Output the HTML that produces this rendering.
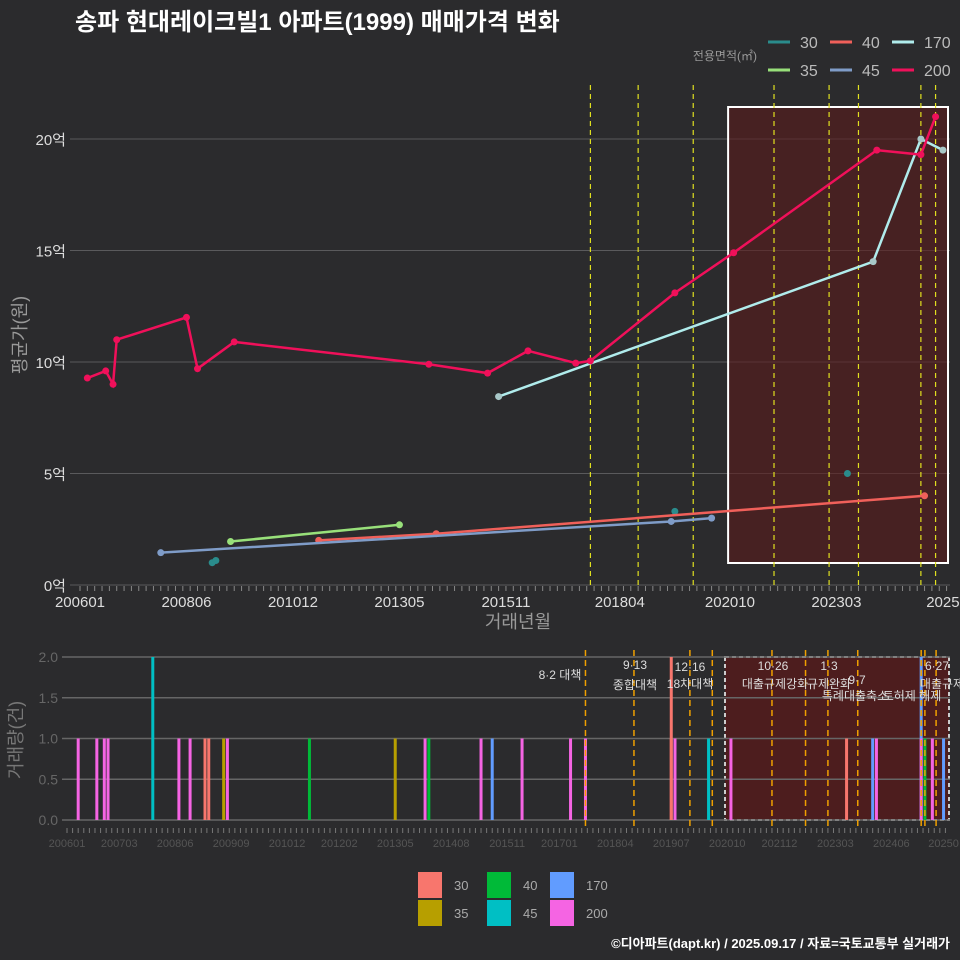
<!DOCTYPE html>
<html><head><meta charset="utf-8">
<style>
body{margin:0;background:#2b2b2d;}
svg{display:block;font-family:"Liberation Sans","Noto Sans CJK KR",sans-serif;}
</style></head>
<body>
<svg id="c" width="960" height="960" viewBox="0 0 960 960">
<rect x="0" y="0" width="960" height="960" fill="#2b2b2d"/>
<text x="75" y="30" fill="#ffffff" font-size="24" font-weight="bold">송파 현대레이크빌1 아파트(1999) 매매가격 변화</text>
<g id="legendTop"></g>
<g id="topPanel"></g>
<g id="botPanel"></g>
<g id="legendBot"></g>
<text x="950" y="948" fill="#ffffff" font-size="13" font-weight="bold" text-anchor="end">©디아파트(dapt.kr) / 2025.09.17 / 자료=국토교통부 실거래가</text>
</svg>
<script>
// ---- data (month index from 2006-01) ----
const seriesNames = ["30","35","40","45","170","200"];
const lineColors = {"30":"#2a8c8c","35":"#98e07a","40":"#f0605a","45":"#7f9cc8","170":"#b0ecec","200":"#f0105a"};
const s30m = [36,37,162,209];            const s30v = [1.0,1.1,3.3,5.0];
const s35m = [41,87];                    const s35v = [1.95,2.7];
const s40m = [65,97,230];                const s40v = [2.0,2.3,4.0];
const s45m = [22,161,172];               const s45v = [1.45,2.85,3.0];
const s170m = [114,216,229,235];         const s170v = [8.45,14.5,20.0,19.5];
const s200m = [2,7,9,10,29,32,42,95,111,122,135,139,162,178,217,229,233];
const s200v = [9.28,9.6,9.0,11.0,12.0,9.7,10.9,9.9,9.5,10.5,9.95,10.05,13.1,14.9,19.5,19.3,21.0];
const yTicks = [0,5,10,15,20];
const yTickLabels = ["0억","5억","10억","15억","20억"];
const xTickMonths = [0,29,58,87,116,147,177,206,235];
const xTickLabels = ["200601","200806","201012","201305","201511","201804","202010","202303","2025"];
const policyMonths = [139,152,167,189,204,212,229,233];
// volume bars
const barMonths = [3,8,10,11,23,30,33,37,38,42,43,65,88,96,97,111,114,122,135,139,162,163,162,172,178,209,216,217,229,229,230,232,235];
const barCounts = [1,1,1,1,2,1,1,1,1,1,1,1,1,1,1,1,1,1,1,1,1,1,2,1,1,1,1,1,2,1,1,1,1];
const barSeries = ["200","200","200","200","45","200","200","30","30","35","200","40","35","200","40","200","170","200","200","200","30","200","30","45","200","30","170","200","170","200","40","200","170"];
const barColors = {"30":"#F8766D","35":"#B79F00","40":"#00BA38","45":"#00BFC4","170":"#619CFF","200":"#F564E3"};
const volTicks = [0,0.5,1,1.5,2];
const volTickLabels = ["0.0","0.5","1.0","1.5","2.0"];
const botTickMonths = [0,14,29,44,59,73,88,103,118,132,147,162,177,191,206,221,235];
const botTickLabels = ["200601","200703","200806","200909","201012","201202","201305","201408","201511","201701","201804","201907","202010","202112","202303","202406","20250"];
const botPolicyMonths = [139,152,167,173,189,198,204,212,229,230,233];
const annText = [["8·2 대책",560,679],["9·13",635,669],["종합대책",635,689],["12·16",690,671],["18차대책",690,688],["10·26",773,670],["대출규제강화",775,688],["1·3",829,670],["규제완화",829,688],["9·7",857,684],["특례대출축소",855,700],["토허제 해제",912,700],["6·27",937,670],["대출규제",942,688]];

const NS="http://www.w3.org/2000/svg";
function mk(p,tag,a){const e=document.createElementNS(NS,tag);for(const k in a)e.setAttribute(k,a[k]);p.appendChild(e);return e;}
const topG=document.getElementById('topPanel'), botG=document.getElementById('botPanel');
const xT=m=>80+m*3.672, yT=v=>585-v*22.3;
const xB=m=>67+m*3.73, yB=v=>820-v*81.5;

yTicks.forEach((t,i)=>{
  const l=mk(topG,'line',{x1:70,x2:950,y1:yT(t),y2:yT(t),stroke:'#5a5a5c','stroke-width':1});
  
  
  const tx=mk(topG,'text',{x:66,y:yT(t)+6,fill:'#dddddd','font-size':15,'text-anchor':'end'});
  tx.textContent=yTickLabels[i];
  
  
});
for(let m=0;m<=236;m+=2){mk(topG,'line',{x1:xT(m),x2:xT(m),y1:586,y2:591,stroke:'#888','stroke-width':1});}
xTickMonths.forEach((m,i)=>{
  const tx=mk(topG,'text',{x:xT(m),y:607,fill:'#dddddd','font-size':15,'text-anchor':'middle'});
  tx.textContent=xTickLabels[i];
  
  
});
let t1=mk(topG,'text',{x:518,y:628,fill:'#999','font-size':18,'text-anchor':'middle'});t1.textContent='거래년월';


let t2=mk(topG,'text',{x:0,y:0,fill:'#999','font-size':18,'text-anchor':'middle',transform:'translate(26,335) rotate(-90)'});t2.textContent='평균가(원)';


let hr=mk(topG,'rect',{x:xT(176.5),y:107,width:948-xT(176.5),height:456,fill:'#5a1a1a','fill-opacity':0.6,stroke:'#ffffff','stroke-width':2});


policyMonths.forEach(m=>{
  const l=mk(topG,'line',{x1:xT(m),x2:xT(m),y1:85,y2:585,stroke:'#e0e020','stroke-width':1.2,'stroke-dasharray':'5,4'});
  
  
});
const all={"30":[s30m,s30v],"35":[s35m,s35v],"40":[s40m,s40v],"45":[s45m,s45v],"170":[s170m,s170v],"200":[s200m,s200v]};
seriesNames.forEach(s=>{
  const [ms,vs]=all[s];
  if(s!=="30"){
    const pl=mk(topG,'polyline',{points:ms.map((m,i)=>xT(m)+','+yT(vs[i])).join(' '),fill:'none',stroke:lineColors[s],'stroke-width':2.5});
    
    
  }
  ms.forEach((m,i)=>{
    const c=mk(topG,'circle',{cx:xT(m),cy:yT(vs[i]),r:3.5,fill:s==="170"?'#a8c8c8':lineColors[s]});
    
    
  });
});
const lgT=document.getElementById('legendTop');
let lt=mk(lgT,'text',{x:757,y:60,fill:'#999','font-size':12,'text-anchor':'end'});lt.textContent='전용면적(㎡)';


[["30",768,42],["40",830,42],["170",892,42],["35",768,70],["45",830,70],["200",892,70]].forEach(([s,x,y])=>{
  const l=mk(lgT,'line',{x1:x,x2:x+22,y1:y,y2:y,stroke:lineColors[s],'stroke-width':3});
  
  
  const t=mk(lgT,'text',{x:x+32,y:y+6,fill:'#bbb','font-size':16});t.textContent=s;
  
  
});

let br=mk(botG,'rect',{x:725,y:657,width:224,height:163,fill:'#5a1a1a','fill-opacity':0.75,stroke:'#cccccc','stroke-width':2,'stroke-dasharray':'4,3'});


volTicks.forEach((t,i)=>{
  const l=mk(botG,'line',{x1:62,x2:950,y1:yB(t),y2:yB(t),stroke:'#666','stroke-width':1.5});
  
  
  const tx=mk(botG,'text',{x:58,y:yB(t)+5,fill:'#666','font-size':14,'text-anchor':'end'});tx.textContent=volTickLabels[i];
  
  
});
let t3=mk(botG,'text',{x:0,y:0,fill:'#777','font-size':18,'text-anchor':'middle',transform:'translate(22,740) rotate(-90)'});t3.textContent='거래량(건)';


barMonths.forEach((m,i)=>{
  const r=mk(botG,'rect',{x:xB(m)-1.5,y:yB(barCounts[i]),width:3,height:820-yB(barCounts[i]),fill:barColors[barSeries[i]]});
  
  
});
botPolicyMonths.forEach(m=>{
  const l=mk(botG,'line',{x1:xB(m),x2:xB(m),y1:650,y2:828,stroke:'#f0a000','stroke-width':1.5,'stroke-dasharray':'6,4'});
  
  
});
for(let m=0;m<=236;m+=1.5){mk(botG,'line',{x1:xB(m),x2:xB(m),y1:828,y2:833,stroke:'#777','stroke-width':1});}
botTickLabels.forEach((lab,i)=>{
  const tx=mk(botG,'text',{x:xB(botTickMonths[i]),y:847,fill:'#555','font-size':11,'text-anchor':'middle'});tx.textContent=lab;
  
  
});
annText.forEach(([s,x,y])=>{
  const tx=mk(botG,'text',{x:x,y:y,fill:'#dddddd','font-size':12,'text-anchor':'middle'});tx.textContent=s;
  
  
});
const lb=document.getElementById('legendBot');
[["30",418,872],["40",487,872],["170",550,872],["35",418,900],["45",487,900],["200",550,900]].forEach(([s,x,y])=>{
  const r=mk(lb,'rect',{x:x,y:y,width:24,height:26,fill:barColors[s]});
  
  
  const t=mk(lb,'text',{x:x+36,y:y+18,fill:'#aaa','font-size':13});t.textContent=s;
  
  
});
</script>
</body></html>
